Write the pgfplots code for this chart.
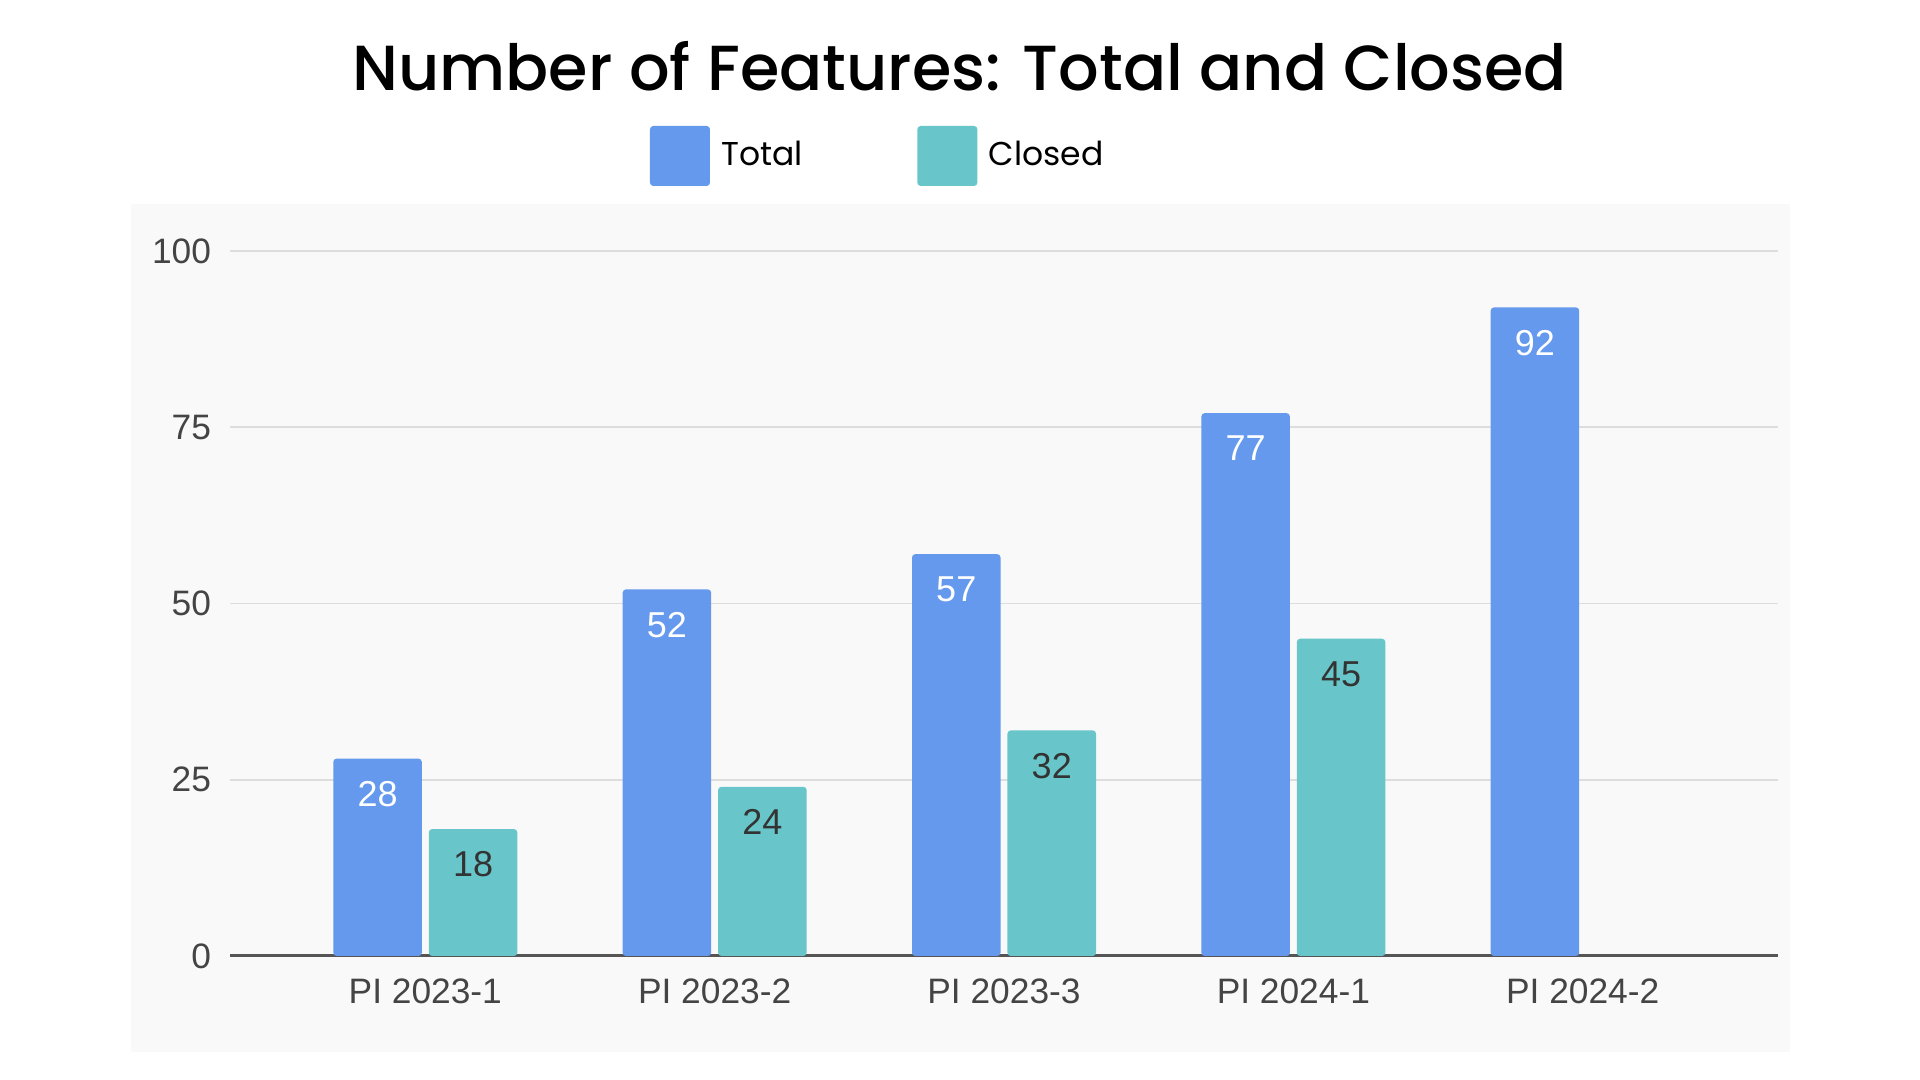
\documentclass[border=0pt]{standalone}
\usepackage{fontspec}
\setmainfont{Liberation Sans}
\newfontfamily\poppins{Poppins}
\newfontfamily\poppinsmed{Poppins Medium}
\usepackage{pgfplots}
\pgfplotsset{compat=1.18}

\definecolor{totalblue}{HTML}{6499EE}
\definecolor{closedteal}{HTML}{68C6CA}
\definecolor{plotbg}{HTML}{F9F9F9}
\definecolor{gridgray}{HTML}{DDDDDD}
\definecolor{zeroline}{HTML}{555555}
\definecolor{ticktext}{HTML}{444444}
\definecolor{darklabel}{HTML}{333333}

% square legend swatch
\pgfplotsset{sqlegend/.style={legend image code/.code={\fill[##1] (0pt,-9pt) rectangle (18pt,9pt);}}}

\begin{document}
\begin{tikzpicture}[x=1pt,y=1pt]
% page and chart area
\path[fill=white] (0,0) rectangle (576,324);
\fill[plotbg] (39.2,8.5) rectangle (537,262.8);
\node[anchor=base, font=\poppinsmed\fontsize{19.1}{22}\selectfont]
  at (287.9,296.7) {Number of Features: Total and Closed};

\begin{axis}[
    at={(69pt,37.2pt)}, anchor=south west,
    scale only axis, width=464.4pt, height=211.5pt,
    ybar,
    ymin=0, ymax=100,
    ytick={25,50,75,100},
    extra y ticks={0},
    extra y tick style={grid style={draw=zeroline, line width=0.9pt}},
    xmin=-0.675, xmax=4.675,
    xtick={0,1,2,3,4},
    xticklabels={PI 2023-1, PI 2023-2, PI 2023-3, PI 2024-1, PI 2024-2},
    ymajorgrids,
    grid style={draw=gridgray, line width=0.5pt},
    axis line style={draw=none},
    major tick length=0pt,
    tick style={draw=none},
    /pgf/number format/assume math mode=true,
    ticklabel style={font=\fontsize{10.6}{12}\selectfont, text=ticktext, inner sep=0pt},
    yticklabel style={anchor=east, xshift=-5.5pt},
    xticklabel style={anchor=north, yshift=-6.6pt},
    bar width=0.306,
    nodes near coords,
    every node near coord/.append style={anchor=north, inner sep=0pt, yshift=-6.6pt,
        font=\fontsize{10.8}{12}\selectfont},
    legend style={at={(0.2713,1.1348)}, anchor=west, draw=none, fill=none,
        inner sep=0pt, outer sep=0pt, legend columns=2,
        nodes={inner sep=0pt},
        font=\poppins\fontsize{9.9}{12}\selectfont,
        /tikz/every odd column/.append style={column sep=3.4pt},
        /tikz/every even column/.append style={column sep=34.4pt}},
    legend cell align=left,
]

% Total
\addplot[fill=totalblue, draw=none, bar shift=-0.165, rounded corners=1pt,
    every node near coord/.append style={text=white}, sqlegend]
    coordinates {(0,28) (1,52) (2,57) (3,77) (4,92)};
\addlegendentry{Total}

% Closed
\addplot[fill=closedteal, draw=none, bar shift=0.165, rounded corners=1pt,
    every node near coord/.append style={text=darklabel}, sqlegend]
    coordinates {(0,18) (1,24) (2,32) (3,45)};
\addlegendentry{Closed}

\end{axis}
\end{tikzpicture}
\end{document}
